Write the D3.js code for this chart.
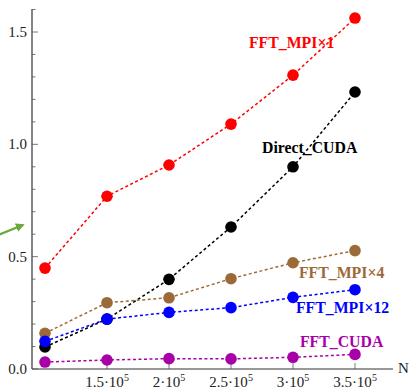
<!DOCTYPE html>
<html>
<head>
<meta charset="utf-8">
<title>timing</title>
<script src="https://cdn.jsdelivr.net/npm/d3@7"></script>
<style>
  body { margin: 0; background: #fff; }
  text { font-family: "Liberation Serif", "Times New Roman", serif; }
  .tick-label { font-size: 15px; fill: #222; }
  .series-label { font-size: 15.8px; font-weight: bold; }
</style>
</head>
<body>
<script>
// data
var nValues = [1.0e5, 1.5e5, 2.0e5, 2.5e5, 3.0e5, 3.5e5];
var fftMpi1 = [0.449, 0.769, 0.908, 1.090, 1.308, 1.562];
var directCuda = [0.098, 0.222, 0.399, 0.632, 0.900, 1.233];
var fftMpi4 = [0.159, 0.295, 0.317, 0.402, 0.473, 0.527];
var fftMpi12 = [0.123, 0.222, 0.252, 0.273, 0.319, 0.353];
var fftCuda = [0.031, 0.040, 0.046, 0.045, 0.052, 0.065];
var xTickValues = [1.5e5, 2.0e5, 2.5e5, 3.0e5, 3.5e5];
var xTickMantissa = ["1.5", "2", "2.5", "3", "3.5"];
var yTickValues = [0.0, 0.5, 1.0, 1.5];

var series = [
  { name: "FFT_MPI\u00d71", values: fftMpi1, color: "#ff0000" },
  { name: "Direct_CUDA", values: directCuda, color: "#000000" },
  { name: "FFT_MPI\u00d74", values: fftMpi4, color: "#9c6a38" },
  { name: "FFT_MPI\u00d712", values: fftMpi12, color: "#0000ff" },
  { name: "FFT_CUDA", values: fftCuda, color: "#a800a8" }
];

// where the labels sit (data space)
var labelPos = {
  "FFT_MPI\u00d71": [2.645e5, 1.429],
  "Direct_CUDA": [2.75e5, 0.961],
  "FFT_MPI\u00d74": [3.048e5, 0.405],
  "FFT_MPI\u00d712": [3.024e5, 0.249],
  "FFT_CUDA": [3.056e5, 0.098]
};

var width = 410, height = 391;
var svg = d3.select("body").append("svg")
  .attr("width", width).attr("height", height);

var x = d3.scaleLinear().domain([1e5, 3.5e5]).range([45, 355]);
var y = d3.scaleLinear().domain([0, 1.5]).range([369, 32]);

var axisX0 = 32, axisY0 = 369;

// axes lines
svg.append("line").attr("x1", axisX0).attr("x2", 393)
  .attr("y1", axisY0).attr("y2", axisY0).attr("stroke", "#333").attr("stroke-width", 1.2);
svg.append("line").attr("x1", axisX0).attr("x2", axisX0)
  .attr("y1", axisY0).attr("y2", 9).attr("stroke", "#333").attr("stroke-width", 1.2);

// y ticks (minor every 0.1)
var yMinor = d3.range(0, 1.61, 0.1);
svg.selectAll(".ymin").data(yMinor).enter().append("line")
  .attr("x1", axisX0).attr("x2", function (d) {
    return Math.abs(d * 2 - Math.round(d * 2)) < 1e-6 ? axisX0 + 6 : axisX0 + 3.5;
  })
  .attr("y1", function (d) { return y(d); })
  .attr("y2", function (d) { return y(d); })
  .attr("stroke", "#555").attr("stroke-width", 0.8);

svg.selectAll(".ylab").data(yTickValues).enter().append("text")
  .attr("class", "tick-label")
  .attr("x", axisX0 - 5).attr("y", function (d) { return y(d) + 5; })
  .attr("text-anchor", "end")
  .text(function (d) { return d.toFixed(1); });

// x ticks
svg.selectAll(".xt").data(xTickValues).enter().append("line")
  .attr("x1", function (d) { return x(d); })
  .attr("x2", function (d) { return x(d); })
  .attr("y1", axisY0).attr("y2", axisY0 - 6)
  .attr("stroke", "#555").attr("stroke-width", 0.8);

var xl = svg.selectAll(".xlab").data(xTickValues).enter().append("text")
  .attr("class", "tick-label")
  .attr("x", function (d) { return x(d); })
  .attr("y", 387)
  .attr("text-anchor", "middle");
xl.append("tspan").text(function (d, i) { return xTickMantissa[i] + "\u00b710"; });
xl.append("tspan").attr("dy", -6).attr("font-size", 10).text("5");

svg.append("text").attr("class", "tick-label")
  .attr("x", 398).attr("y", 373).text("N");

// lines and points
var line = d3.line()
  .x(function (d, i) { return x(nValues[i]); })
  .y(function (d) { return y(d); });

var g = svg.selectAll(".series").data(series).enter().append("g");

g.append("path")
  .attr("d", function (d) { return line(d.values); })
  .attr("fill", "none")
  .attr("stroke", function (d) { return d.color; })
  .attr("stroke-width", 1.5)
  .attr("stroke-dasharray", "3,2.5");

g.selectAll("circle").data(function (d) {
  return d.values.map(function (v, i) { return { v: v, i: i, color: d.color }; });
}).enter().append("circle")
  .attr("cx", function (d) { return x(nValues[d.i]); })
  .attr("cy", function (d) { return y(d.v); })
  .attr("r", 5.8)
  .attr("fill", function (d) { return d.color; });

// labels
g.append("text")
  .attr("class", "series-label")
  .attr("x", function (d) { return x(labelPos[d.name][0]); })
  .attr("y", function (d) { return y(labelPos[d.name][1]); })
  .attr("fill", function (d) { return d.color; })
  .text(function (d) { return d.name; });

// green arrow on the left edge
var defs = svg.append("defs");
defs.append("marker").attr("id", "head")
  .attr("viewBox", "0 0 10 10").attr("refX", 8).attr("refY", 5)
  .attr("markerWidth", 4).attr("markerHeight", 4).attr("orient", "auto")
  .append("path").attr("d", "M0,0 L10,5 L0,10 Z").attr("fill", "#6aaa3c");
svg.append("line").attr("x1", -2).attr("y1", 235).attr("x2", 23).attr("y2", 225)
  .attr("stroke", "#6aaa3c").attr("stroke-width", 2.2)
  .attr("marker-end", "url(#head)");
</script>
</body>
</html>
